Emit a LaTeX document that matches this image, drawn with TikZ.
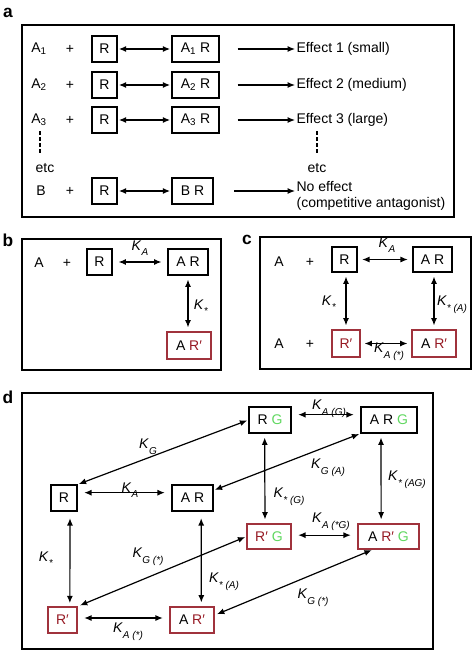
\documentclass[tikz,border=0pt]{standalone}
\usepackage{fontspec}
\setmainfont{Liberation Sans}
\usepackage{tikz}
\usetikzlibrary{arrows.meta,positioning,calc}
\definecolor{rdark}{RGB}{150,25,35}
\definecolor{rline}{RGB}{160,50,60}
\definecolor{gfl}{RGB}{95,215,95}
\newcommand{\Kc}[1]{\textit{K}\raisebox{-0.4em}{\fontsize{7.5}{8}\selectfont\textit{#1}}}
\newcommand{\Rp}{\textcolor{rdark}{R′}}
\newcommand{\Gg}{\textcolor{gfl}{G}}
\tikzset{
  bx/.style={draw,line width=0.8pt,inner sep=1pt,minimum height=19.5pt},
  rbx/.style={bx,draw=rline},
  bw/.style={minimum width=#1*0.75pt},
  frm/.style={line width=1.1pt},
  lbl/.style={font=\bfseries\fontsize{13}{14}\selectfont},
  lr/.style={{Latex[length=5.5pt,width=4.5pt]}-{Latex[length=5.5pt,width=4.5pt]},line width=0.9pt},
  arr/.style={-{Latex[length=5.5pt,width=4.5pt]},line width=0.9pt},
  dsh/.style={line width=0.8pt,dash pattern=on 3pt off 1.5pt},
}
\begin{document}
\begin{tikzpicture}[x=0.75pt,y=0.75pt,yscale=-1,xscale=1,font=\fontsize{10.5}{12}\selectfont]
\useasboundingbox (0,0) rectangle (472,650);

% ---------------- panel a
\draw (8,13) node (la) [lbl] {a};
\draw[frm] (22,25) rectangle (454,217);
% Text Node
\draw (39,49) node (a1) {A\textsubscript{1}};
\draw (39,85) node (a2) {A\textsubscript{2}};
\draw (39,120) node (a3) {A\textsubscript{3}};
\draw (41,191) node (b0) {B};
\draw (70,49) node (pa1) {+};
\draw (70,85) node (pa2) {+};
\draw (70,120) node (pa3) {+};
\draw (70,191) node (pab) {+};
% Boxes
\draw (104.5,49) node (r1) [bx,bw=25] {R};
\draw (104.5,85) node (r2) [bx,bw=25] {R};
\draw (104.5,120) node (r3) [bx,bw=25] {R};
\draw (104.5,191) node (rb) [bx,bw=25] {R};
\draw (195.5,49) node (ar1) [bx,bw=47] {A\textsubscript{1} R};
\draw (195.5,85) node (ar2) [bx,bw=47] {A\textsubscript{2} R};
\draw (195.5,120) node (ar3) [bx,bw=47] {A\textsubscript{3} R};
\draw (192.5,191) node (brb) [bx,bw=41] {B R};
% Text Node
\draw (295,49) node (e1) [anchor=west,inner sep=1pt] {Effect 1 (small)};
\draw (295,85) node (e2) [anchor=west,inner sep=1pt] {Effect 2 (medium)};
\draw (295,120) node (e3) [anchor=west,inner sep=1pt] {Effect 3 (large)};
\draw (295,195.5) node (eb) [anchor=west,inner sep=1pt,align=left] {No effect\\(competitive antagonist)};
\draw (45,168) node (etc1) {etc};
\draw (317,168) node (etc2) {etc};
% Straight Lines
\draw[lr,shorten <=1pt,shorten >=1pt] (r1) -- (ar1);
\draw[lr,shorten <=1pt,shorten >=1pt] (r2) -- (ar2);
\draw[lr,shorten <=1pt,shorten >=1pt] (r3) -- (ar3);
\draw[lr,shorten <=1pt,shorten >=1pt] (rb) -- (brb);
\draw[arr,shorten <=13.5pt] (ar1) -- (e1);
\draw[arr,shorten <=13.5pt] (ar2) -- (e2);
\draw[arr,shorten <=13.5pt] (ar3) -- (e3);
\draw[arr,shorten <=15.5pt] (brb.east) -- (brb.east -| eb.west);
\coordinate (d1) at (40,131);
\coordinate (d2) at (317,131);
\draw[dsh] (d1) -- (40,154);
\draw[dsh] (d2) -- (317,154);

% ---------------- panel b
\draw (8,240) node (lb) [lbl] {b};
\draw[frm] (22,239) rectangle (221,370);
\draw (39,263) node (ab) {A};
\draw (67,263) node (pb) {+};
\draw (99.5,262) node (rbb) [bx,bw=25] {R};
\draw (188,262) node (arbb) [bx,bw=40] {A R};
\draw (189,345.5) node (arpb) [rbx,bw=44,minimum height=20.25pt] {A \Rp};
\draw (140,248) node (kab) {\Kc{A}};
\draw (201,307) node (ksb) {\Kc{*}};
\draw[lr,shorten <=4.5pt,shorten >=4.5pt] (rbb) -- (arbb);
\draw[lr,shorten <=3pt,shorten >=3pt] (arbb) -- (arbb |- arpb.north);

% ---------------- panel c
\draw (247,240) node (lc) [lbl] {c};
\draw[frm] (260,237) rectangle (471,369);
\draw (279,262) node (ac1) {A};
\draw (310,262) node (pc1) {+};
\draw (279,344) node (ac2) {A};
\draw (310,344) node (pc2) {+};
\draw (344.5,259.5) node (rc) [bx,bw=25,minimum height=18.75pt] {R};
\draw (432.5,259.5) node (arc) [bx,bw=39,minimum height=18.75pt] {A R};
\draw (346,343.5) node (rpc) [rbx,bw=28,minimum height=20.25pt] {\Rp};
\draw (434,343.5) node (arpc) [rbx,bw=44,minimum height=20.25pt] {A \Rp};
\draw (387,245) node (kac) {\Kc{A}};
\draw (329,303) node (ksc) {\Kc{*}};
\draw (452,305) node (ksac) {\Kc{* (A)}};
\draw (389,352) node (kasc) {\Kc{A (*)}};
\draw[lr,shorten <=3.5pt,shorten >=3.5pt] (rc) -- (arc);
\draw[lr,shorten <=3pt,shorten >=3pt] (rpc) -- (arpc);
\draw[lr,shorten <=3pt,shorten >=3pt] (rc.south -| rpc) -- (rpc.north);
\draw[lr,shorten <=3pt,shorten >=3pt] (arc.south -| arpc) -- (arpc.north);

% ---------------- panel d
\draw (8,397) node (ld) [lbl] {d};
\draw[frm] (22,393) rectangle (433,649);
% Boxes
\draw (270,420) node (rg) [bx,bw=42] {R \Gg};
\draw (389,420) node (arg) [bx,bw=56] {A R \Gg};
\draw (64,498) node (rd) [bx,bw=26] {R};
\draw (192.5,498) node (ard) [bx,bw=41] {A R};
\draw (269,536.5) node (rpg) [rbx,bw=44,minimum height=18.75pt] {\Rp\ \Gg};
\draw (388.5,536.5) node (arpg) [rbx,bw=61,minimum height=18.75pt] {A \Rp\ \Gg};
\draw (62.5,620) node (rpd) [rbx,bw=29] {\Rp};
\draw (192,620) node (arpd) [rbx,bw=44] {A \Rp};
% Text Node
\draw (329,409) node (kag) {\Kc{A (G)}};
\draw (148,447) node (kg) {\Kc{G}};
\draw (328,468) node (kgad) {\Kc{G (A)}};
\draw (407,480) node (ksag) {\Kc{* (AG)}};
\draw (289,497) node (ksg) {\Kc{* (G)}};
\draw (130,490) node (kad) {\Kc{A}};
\draw (331,522) node (kasg) {\Kc{A (*G)}};
\draw (46,559) node (ksd) {\Kc{*}};
\draw (148,557) node (kgs1) {\Kc{G (*)}};
\draw (224,582) node (ksad) {\Kc{* (A)}};
\draw (313,598) node (kgs2) {\Kc{G (*)}};
\draw (128,632) node (kasd) {\Kc{A (*)}};
% Straight Lines
\draw[lr,shorten <=5pt,shorten >=5pt] ([yshift=-4pt]rg.east) -- ([yshift=-4pt]arg.west);
\draw[lr,shorten <=5pt,shorten >=5pt] ([yshift=-4pt]rd.east) -- ([yshift=-4pt]ard.west);
\draw[lr,shorten <=5pt,shorten >=5pt] ([yshift=-1pt]rpg.east) -- ([yshift=-1pt]arpg.west);
\draw[lr,shorten <=5pt,shorten >=5pt] ([yshift=-1.5pt]rpd.east) -- ([yshift=-1.5pt]arpd.west);
\draw[lr,shorten <=5pt,shorten >=2.5pt] ([xshift=4.5pt]rd.south) -- ([xshift=5.5pt]rpd.north);
\draw[lr,shorten <=5pt,shorten >=3pt] ([xshift=6.5pt]ard.south) -- ([xshift=7pt]arpd.north);
\draw[lr,shorten <=3pt,shorten >=3pt] ([xshift=-4pt]rg.south) -- ([xshift=-3pt]rpg.north);
\draw[lr,shorten <=3pt,shorten >=3pt] ([xshift=-6pt]arg.south) -- ([xshift=-5.5pt]arpg.north);
\draw[lr,shorten <=1pt,shorten >=1pt] (rg.west) -- (rd.north east);
\draw[lr,shorten <=1pt,shorten >=1pt] (arg.south west) -- (ard.20);
\draw[lr,shorten <=1pt,shorten >=2pt] (rpg.west) -- (rpd.north east);
\draw[lr,shorten <=1pt,shorten >=2pt] (arpg.220) -- (arpd.12);
\end{tikzpicture}
\end{document}
